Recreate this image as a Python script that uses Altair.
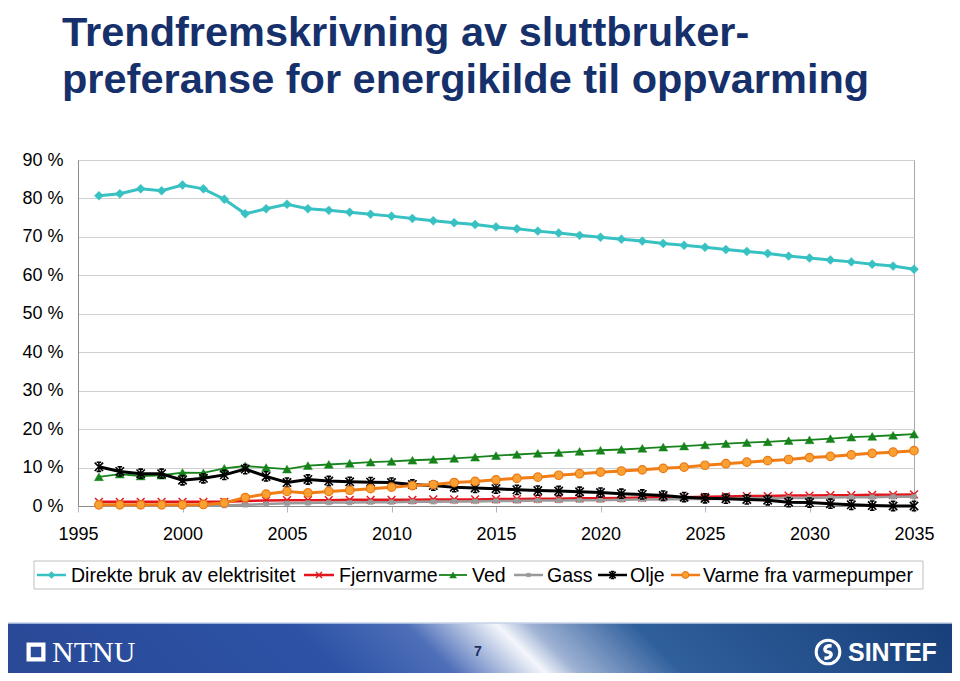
import altair as alt
import pandas as pd

# ---------------- data ----------------
years = list(range(1996, 2036))
series_names = ["Direkte bruk av elektrisitet", "Fjernvarme", "Ved", "Gass", "Olje",
                "Varme fra varmepumper"]

direkte = [80.7, 81.2, 82.5, 82.0, 83.5, 82.5, 79.8, 76.0, 77.3, 78.5,
           77.3, 76.9, 76.4, 75.9, 75.4, 74.8, 74.2, 73.7, 73.2, 72.6,
           72.1, 71.5, 71.0, 70.4, 69.9, 69.4, 68.9, 68.3, 67.8, 67.3,
           66.7, 66.2, 65.7, 65.0, 64.5, 64.0, 63.5, 62.9, 62.4, 61.6]
fjernvarme = [1.1, 1.1, 1.1, 1.1, 1.1, 1.1, 1.1, 1.3, 1.4, 1.5,
              1.5, 1.5, 1.6, 1.6, 1.6, 1.6, 1.7, 1.7, 1.7, 1.8,
              1.8, 1.9, 1.9, 2.0, 2.0, 2.1, 2.2, 2.3, 2.3, 2.4,
              2.5, 2.6, 2.6, 2.7, 2.7, 2.8, 2.8, 2.9, 2.9, 3.0]
ved = [7.6, 8.3, 7.8, 8.0, 8.7, 8.6, 9.8, 10.4, 10.0, 9.6,
       10.5, 10.8, 11.1, 11.4, 11.6, 11.9, 12.1, 12.4, 12.7, 13.1,
       13.4, 13.7, 13.9, 14.2, 14.5, 14.7, 15.0, 15.3, 15.6, 15.9,
       16.2, 16.5, 16.7, 17.0, 17.2, 17.5, 17.9, 18.1, 18.4, 18.7]
gass = [0.1, 0.1, 0.1, 0.1, 0.1, 0.1, 0.1, 0.3, 0.5, 0.7,
        0.8, 0.9, 0.9, 1.0, 1.0, 1.1, 1.1, 1.2, 1.2, 1.3,
        1.3, 1.4, 1.4, 1.5, 1.5, 1.6, 1.7, 1.7, 1.8, 1.8,
        1.9, 2.0, 2.0, 2.1, 2.1, 2.2, 2.3, 2.3, 2.4, 2.4]
olje = [10.2, 9.0, 8.4, 8.4, 6.7, 7.2, 8.1, 9.6, 7.7, 6.1,
        6.9, 6.5, 6.3, 6.2, 6.1, 5.6, 5.3, 4.9, 4.7, 4.5,
        4.2, 4.0, 3.9, 3.7, 3.5, 3.2, 3.0, 2.7, 2.3, 2.0,
        1.9, 1.7, 1.5, 1.0, 0.9, 0.6, 0.3, 0.1, 0.0, 0.0]
varme = [0.3, 0.3, 0.3, 0.3, 0.3, 0.4, 0.8, 2.2, 3.1, 3.8,
         3.4, 3.8, 4.1, 4.5, 4.9, 5.3, 5.6, 6.1, 6.4, 6.8,
         7.2, 7.5, 8.0, 8.4, 8.8, 9.1, 9.4, 9.8, 10.1, 10.6,
         11.0, 11.4, 11.8, 12.1, 12.6, 12.9, 13.3, 13.7, 14.0, 14.4]

x_ticks = [1995, 2000, 2005, 2010, 2015, 2020, 2025, 2030, 2035]
y_ticks = [0, 10, 20, 30, 40, 50, 60, 70, 80, 90]

title_lines = ["Trendfremskrivning av sluttbruker-",
               "preferanse for energikilde til oppvarming"]
page_number = "7"

values = [direkte, fjernvarme, ved, gass, olje, varme]
rows = []
for name, vals in zip(series_names, values):
    for yr, v in zip(years, vals):
        rows.append({"series": name, "year": yr, "value": v})
df = pd.DataFrame(rows)
one = pd.DataFrame({"k": [0]})

# ---------------- styles ----------------
X_PATH = "M-1,-1L1,1M-1,1L1,-1"
STAR_PATH = "M-1,-1L1,1M-1,1L1,-1M0,-1.1L0,1.1M-0.55,-1.1L0.55,-1.1M-0.55,1.1L0.55,1.1"
styles = {
    "Direkte bruk av elektrisitet": dict(line="#38c1c3", lw=3, shape="diamond", size=80,
                                         fill="#38c1c3", stroke="#38c1c3", sw=0.5, filled=True),
    "Fjernvarme": dict(line="#e3151c", lw=2.5, shape=X_PATH, size=60,
                       fill="#e3151c", stroke="#e3151c", sw=1.4, filled=False),
    "Ved": dict(line="#17841b", lw=1.8, shape="triangle-up", size=80,
                fill="#17841b", stroke="#17841b", sw=0.5, filled=True),
    "Gass": dict(line="#9a9a9a", lw=2.5, shape="square", size=22,
                 fill="#9a9a9a", stroke="#9a9a9a", sw=0.5, filled=True),
    "Olje": dict(line="#000000", lw=3, shape=STAR_PATH, size=70,
                 fill="#000000", stroke="#000000", sw=1.6, filled=False),
    "Varme fra varmepumper": dict(line="#f07d16", lw=3, shape="circle", size=72,
                                  fill="#f9a233", stroke="#ec7712", sw=1.2, filled=True),
}

FONT = "Liberation Sans"
xscale = alt.Scale(domain=[1995, 2035], nice=False, zero=False)
yscale = alt.Scale(domain=[0, 90], nice=False, zero=True)
xaxis = alt.Axis(values=x_ticks, format="d", title=None, grid=False,
                 labelFont=FONT, labelFontSize=18, labelColor="#000000",
                 labelFlush=False, labelOverlap=False, labelPadding=13,
                 tickColor="#a9b9cc", tickSize=6, domainColor="#8c8c8c")
yaxis = alt.Axis(values=y_ticks, labelExpr="datum.value + ' %'", title=None,
                 labelFont=FONT, labelFontSize=18, labelColor="#000000",
                 ticks=False, labelPadding=15, domainColor="#8c8c8c",
                 grid=True, gridColor="#d0d0d0", labelOverlap=False)

layers = []

# footer banner
footer_grad = alt.Gradient(
    gradient="linear", x1=0, y1=0.03, x2=1, y2=-0.03,
    stops=[alt.GradientStop(offset=0.0, color="#2a4a98"),
           alt.GradientStop(offset=0.30, color="#2d52a6"),
           alt.GradientStop(offset=0.42, color="#4e6fb8"),
           alt.GradientStop(offset=0.49, color="#c9d4ea"),
           alt.GradientStop(offset=0.515, color="#f4f6fb"),
           alt.GradientStop(offset=0.55, color="#9db1d3"),
           alt.GradientStop(offset=0.66, color="#2f5f9c"),
           alt.GradientStop(offset=1.0, color="#173e78")])
layers.append(alt.Chart(one).mark_rect(fill=footer_grad).encode(
    x=alt.value(-73), x2=alt.value(879), y=alt.value(463), y2=alt.value(520)))
layers.append(alt.Chart(one).mark_rule(color="#c5d2e8", strokeWidth=1.5).encode(
    x=alt.value(-73), x2=alt.value(879), y=alt.value(463)))
# NTNU logo
layers.append(alt.Chart(one).mark_point(shape="square", filled=True, fill="white",
                                        size=360, opacity=1).encode(
    x=alt.value(-42), y=alt.value(492)))
layers.append(alt.Chart(one).mark_point(shape="square", filled=True, fill="#2b4c9b",
                                        size=110, opacity=1).encode(
    x=alt.value(-42), y=alt.value(492)))
layers.append(alt.Chart(one).mark_text(text="NTNU", font="Liberation Serif", fontSize=30,
                                       color="white", align="left",
                                       baseline="alphabetic").encode(
    x=alt.value(-26), y=alt.value(502)))
layers.append(alt.Chart(one).mark_text(text=page_number, font=FONT, fontSize=14,
                                       fontWeight="bold", color="#1b2f60", align="center",
                                       baseline="middle").encode(
    x=alt.value(400), y=alt.value(492)))
# SINTEF logo
layers.append(alt.Chart(one).mark_point(shape="circle", filled=False, stroke="white",
                                        strokeWidth=3, size=560, opacity=1).encode(
    x=alt.value(750), y=alt.value(492)))
layers.append(alt.Chart(one).mark_point(
    shape="M0.45,-0.75C-0.55,-0.85 -0.6,0 0,0C0.6,0 0.55,0.85 -0.45,0.75",
    filled=False, stroke="white", strokeWidth=3.5, size=260, opacity=1).encode(
    x=alt.value(750), y=alt.value(492)))
layers.append(alt.Chart(one).mark_text(text="SINTEF", font=FONT, fontSize=25,
                                       fontWeight="bold", color="white", align="left",
                                       baseline="alphabetic").encode(
    x=alt.value(770), y=alt.value(501)))

# title
for txt, yb in zip(title_lines, [-114, -67]):
    layers.append(alt.Chart(one).mark_text(text=txt, font=FONT, fontSize=41.5,
                                           fontWeight="bold", color="#15306b",
                                           align="left", baseline="alphabetic").encode(
        x=alt.value(-16), y=alt.value(yb)))

# data series
for name in series_names:
    st = styles[name]
    base = alt.Chart(df).transform_filter(alt.datum.series == name)
    layers.append(base.mark_line(color=st["line"], strokeWidth=st["lw"]).encode(
        x=alt.X("year:Q", scale=xscale, axis=xaxis),
        y=alt.Y("value:Q", scale=yscale, axis=yaxis)))
    layers.append(base.mark_point(shape=st["shape"], size=st["size"], filled=st["filled"],
                                  fill=st["fill"] if st["filled"] else None,
                                  stroke=st["stroke"], strokeWidth=st["sw"],
                                  opacity=1).encode(
        x=alt.X("year:Q", scale=xscale, axis=xaxis),
        y=alt.Y("value:Q", scale=yscale, axis=yaxis)))

# legend
legend_seg = [(-41, -12), (226, 256), (361, 389), (436, 465), (520, 549), (593, 622)]
legend_text_x = [-7, 261, 394, 469, 552, 625]
LEG_Y = 415
layers.append(alt.Chart(one).mark_rect(fill="white", stroke="#c0c0c0", strokeWidth=1).encode(
    x=alt.value(-44), x2=alt.value(845), y=alt.value(401), y2=alt.value(429)))
for name, (x0, x1), tx in zip(series_names, legend_seg, legend_text_x):
    st = styles[name]
    layers.append(alt.Chart(one).mark_rule(color=st["line"], strokeWidth=min(st["lw"], 2.5)).encode(
        x=alt.value(x0), x2=alt.value(x1), y=alt.value(LEG_Y)))
    layers.append(alt.Chart(one).mark_point(shape=st["shape"], size=st["size"] * 0.6,
                                            filled=st["filled"],
                                            fill=st["fill"] if st["filled"] else None,
                                            stroke=st["stroke"], strokeWidth=st["sw"],
                                            opacity=1).encode(
        x=alt.value((x0 + x1) / 2), y=alt.value(LEG_Y)))
    layers.append(alt.Chart(one).mark_text(text=name, font=FONT, fontSize=19.5,
                                           color="#000000", align="left",
                                           baseline="middle").encode(
        x=alt.value(tx), y=alt.value(LEG_Y + 1)))

chart = alt.layer(*layers).properties(
    width=836, height=346,
    autosize=alt.AutoSizeParams(type="none"),
    padding={"left": 70, "top": 152, "right": 38, "bottom": 167},
    background="white",
).configure_view(stroke="#a6a6a6", strokeWidth=1)

chart.save("out.html", embed_options={"renderer": "svg", "actions": False})
